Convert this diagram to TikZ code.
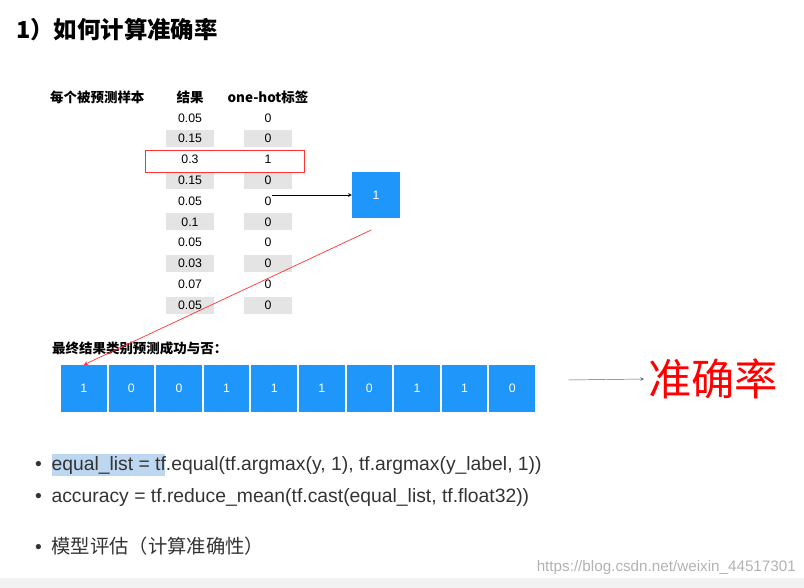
\documentclass[tikz,border=0pt]{standalone}
\usepackage{fontspec}
\setmainfont{Liberation Sans}
\newfontfamily\cjk{Noto Sans CJK SC}
\usetikzlibrary{positioning}
\definecolor{cellblue}{RGB}{30,150,250}
\definecolor{rowgray}{RGB}{228,228,228}
\definecolor{hiblue}{RGB}{190,215,240}
\definecolor{arrowblue}{RGB}{70,100,160}
\tikzset{
  numtxt/.style={font=\fontsize{10.5}{11}\selectfont},
  graybox/.style={fill=rowgray,minimum width=48*0.03cm,minimum height=17*0.03cm,inner sep=0pt},
  cellbox/.style={fill=cellblue,text=white,minimum width=45.5*0.03cm,minimum height=47*0.03cm,inner sep=0pt,font=\fontsize{10.5}{11}\selectfont},
  headtxt/.style={font=\cjk\bfseries\fontsize{11.5}{13}\selectfont},
  codetxt/.style={anchor=west,font=\fontsize{16.5}{18}\selectfont,text=black!80},
}
\begin{document}
\begin{tikzpicture}[x=0.03cm,y=-0.03cm]
  \useasboundingbox (0,0) rectangle (804,588);
  \fill[black!5] (0,578) rectangle (804,588);
  % title
  \node[anchor=west,font=\cjk\bfseries\fontsize{20}{22}\selectfont] (title) at (12,30) {1）如何计算准确率};
  % table header
  \node[headtxt,anchor=west] (hsample) at (46,97) {每个被预测样本};
  \node[headtxt] (hres) at (190,97) {结果};
  \node[headtxt] (hlabel) at (268,97) {one-hot标签};
  % table rows
  \foreach \r/\p/\l [count=\i] in {1/0.05/0,2/0.15/0,3/0.3/1,4/0.15/0,5/0.05/0,6/0.1/0,7/0.05/0,8/0.03/0,9/0.07/0,10/0.05/0}{
    \pgfmathsetmacro{\yy}{97+\i*20.8}
    \ifodd\r\else
      \node[graybox] at (190,\yy) {};
      \node[graybox] at (268,\yy) {};
    \fi
    \node[numtxt] (p\r) at (190,\yy) {\p};
    \node[numtxt] (l\r) at (268,\yy) {\l};
  }
  \draw[red!80,thick] (145,150) rectangle (304,172);
  % argmax result
  \node[cellbox,minimum width=48*0.03cm,minimum height=46*0.03cm] (res) at (376,195) {1};
  \coordinate (resin) at (272,195);
  \draw[-stealth] (resin) -- (res.west);
  % result list
  \node[anchor=west,font=\cjk\bfseries\fontsize{11.5}{13}\selectfont] (listlabel) at (48,348) {最终结果类别预测成功与否：};
  \foreach \v [count=\i] in {1,0,0,1,1,1,0,1,1,0}{
    \node[cellbox] (c\i) at ({60+23.8+(\i-1)*47.6},388.5) {\v};
  }
  \draw[red!80,semithick,-stealth] ([xshift=-4pt,yshift=-10pt]res.south) -- (c1.north);
  % accuracy
  \node[text=red,font=\cjk\fontsize{37}{40}\selectfont,anchor=west] (acc) at (644,379) {准确率};
  \coordinate (accin) at (568,380);
  \draw[arrowblue,-stealth] (accin) -- (acc.west);
  % bullets
  \fill[hiblue] (52,454) rectangle (165,476);
  \node[codetxt] (b1) at (31,465) {\textbullet\hspace{0.5em}equal\_list = tf.equal(tf.argmax(y, 1), tf.argmax(y\_label, 1))};
  \node[codetxt] (b2) at (31,497) {\textbullet\hspace{0.5em}accuracy = tf.reduce\_mean(tf.cast(equal\_list, tf.float32))};
  \node[codetxt] (b3) at (31,546) {\textbullet\hspace{0.5em}{\cjk 模型评估（计算准确性）}};
  % watermark
  \node[anchor=east,text=black!30,font=\fontsize{13}{14}\selectfont] (wm) at (800,568) {https://blog.csdn.net/weixin\_44517301};
\end{tikzpicture}
\end{document}
